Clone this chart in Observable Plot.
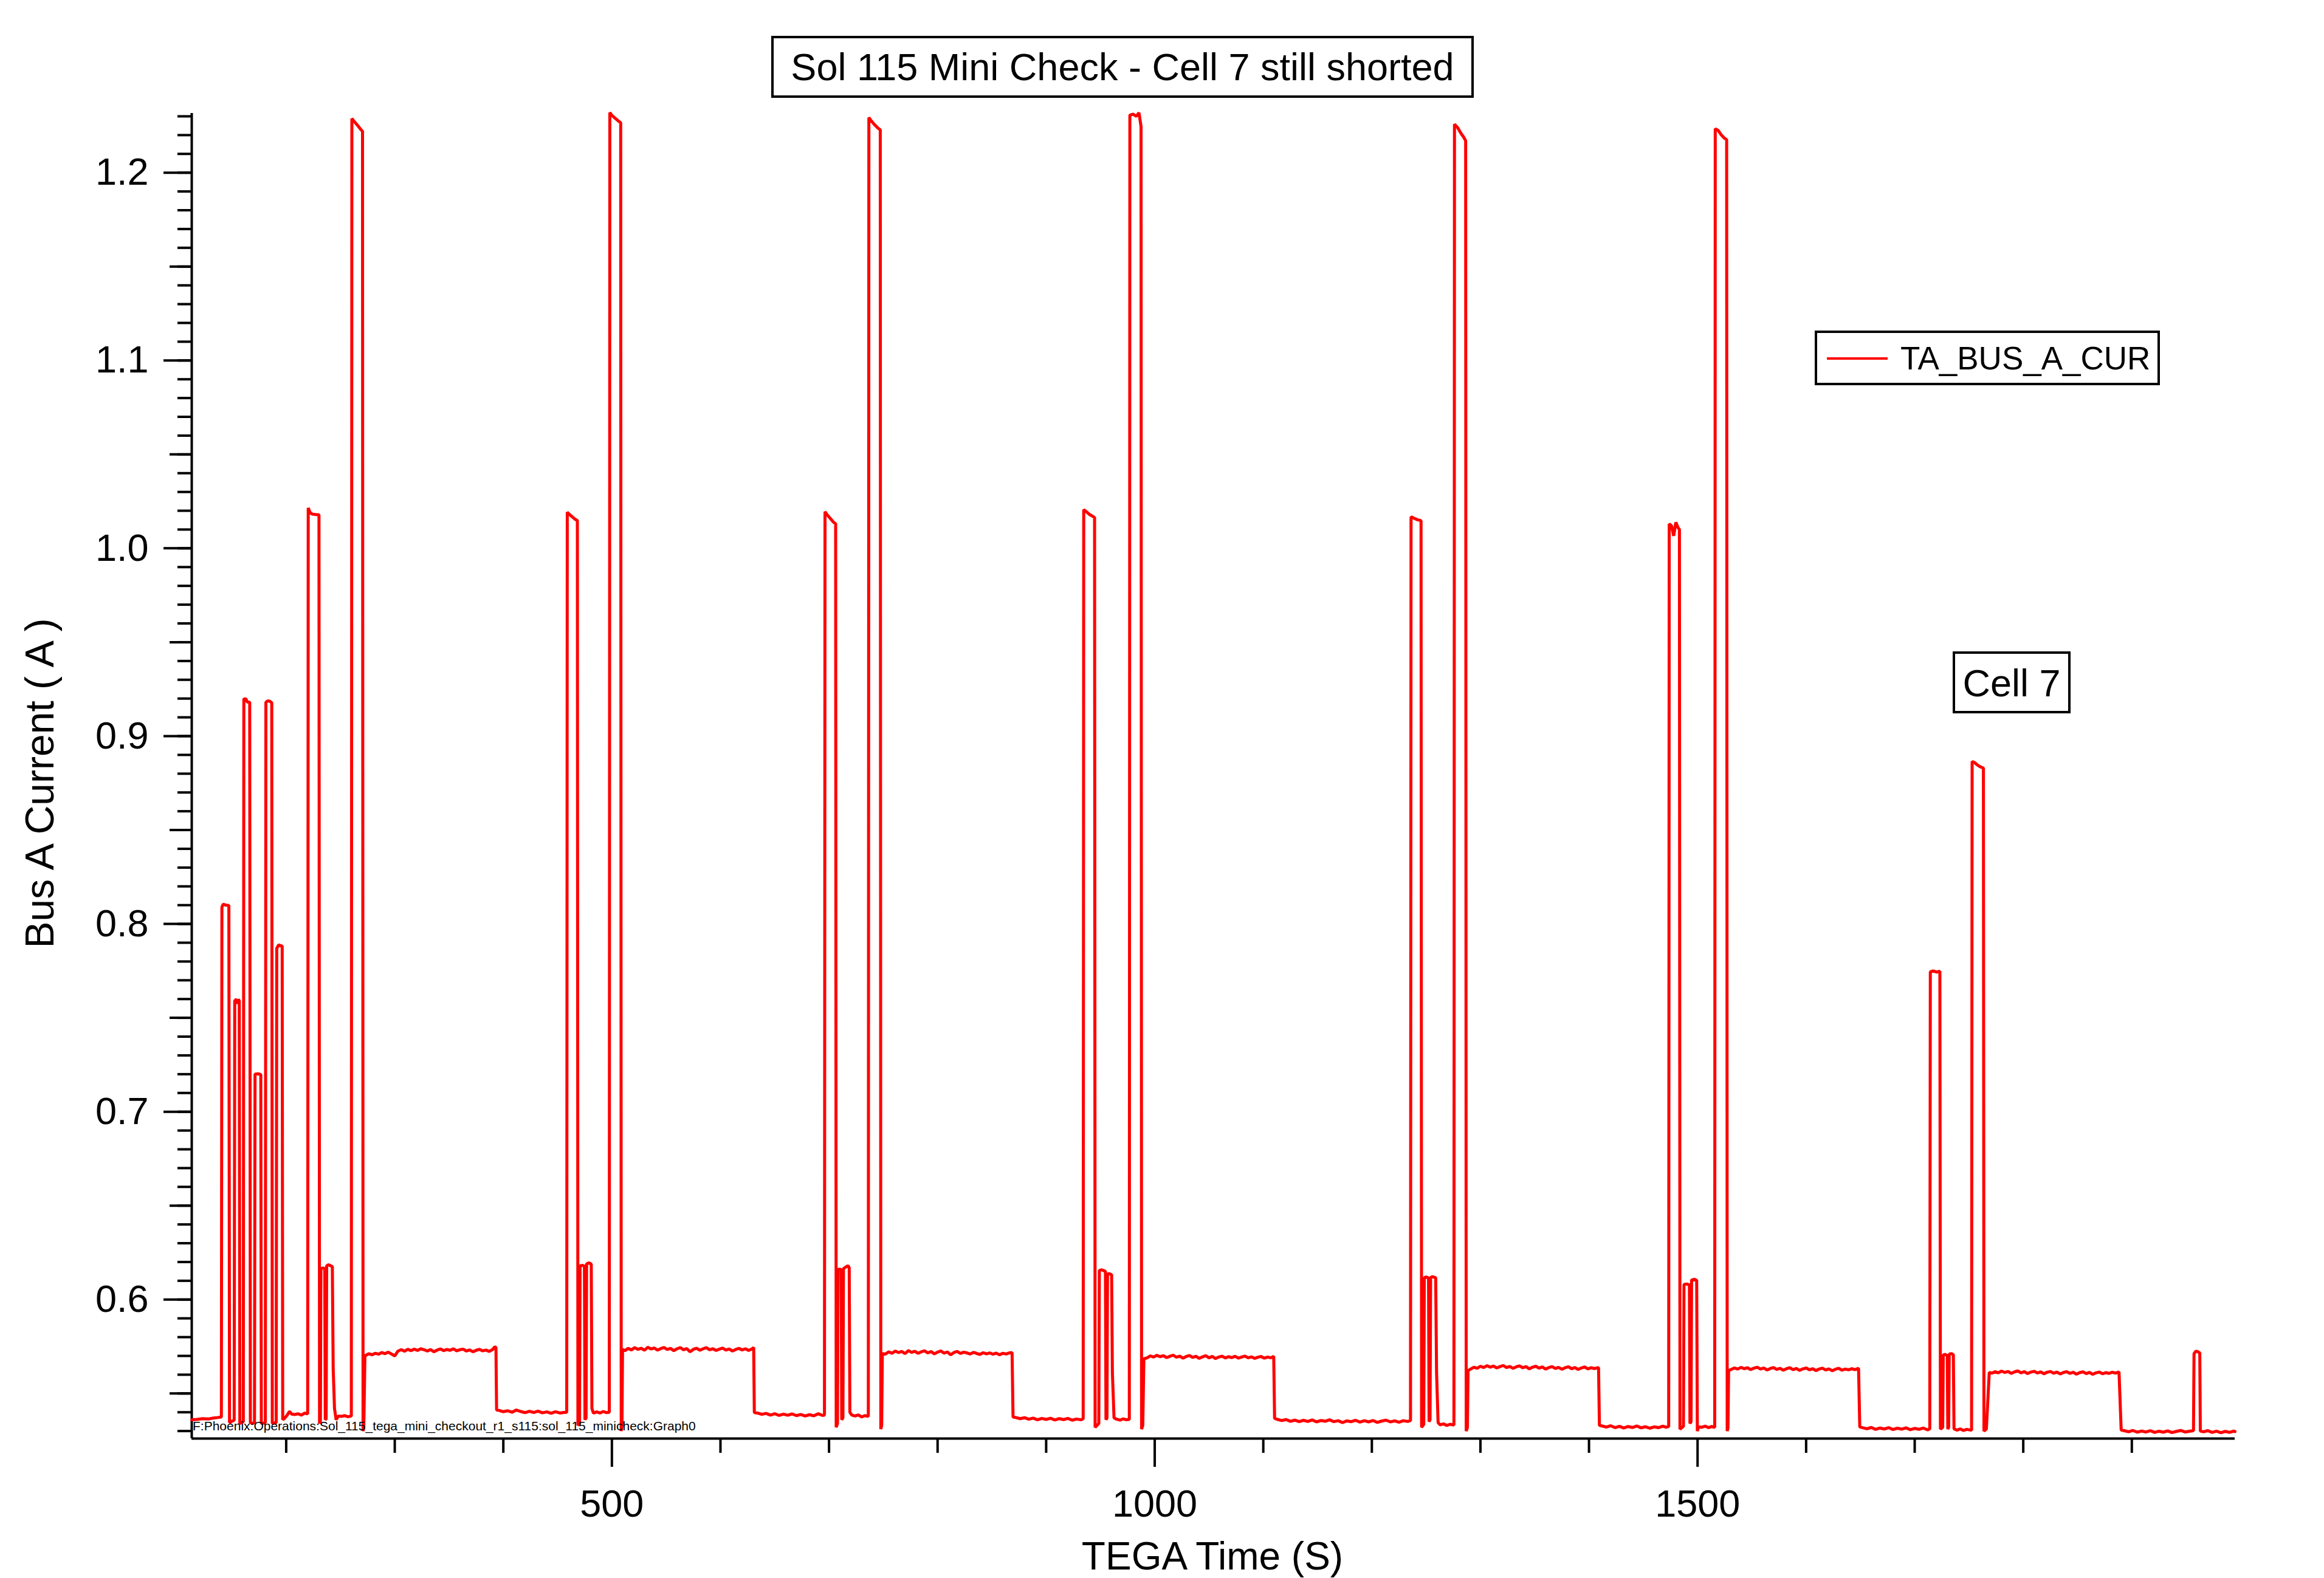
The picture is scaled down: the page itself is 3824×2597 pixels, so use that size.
<!DOCTYPE html>
<html><head><meta charset="utf-8">
<script src="https://cdn.jsdelivr.net/npm/d3@7"></script>
<script src="https://cdn.jsdelivr.net/npm/@observablehq/plot@0.6"></script>
<style>
html,body{margin:0;padding:0;background:#fff;overflow:hidden}
#chart{position:relative;width:3824px;height:2597px;background:#fff}
</style></head><body><div id="chart"></div>
<script>
// ---- texts ----
const titleText = "Sol 115 Mini Check - Cell 7 still shorted";
const seriesName = "TA_BUS_A_CUR";
const annotationText = "Cell 7";
const xLabel = "TEGA Time (S)";
const yLabel = "Bus A Current ( A )";
const pathText = "F:Phoenix:Operations:Sol_115_tega_mini_checkout_r1_s115:sol_115_minicheck:Graph0";

// ---- axes ----
const xDomain = [113, 1995];
const yDomain = [0.526, 1.2316];
const xMajorTicks = [500, 1000, 1500];
const xMinorTicks = [200, 300, 400, 600, 700, 800, 900, 1100, 1200, 1300, 1400, 1600, 1700, 1800, 1900];
const yMajorTicks = [0.6, 0.7, 0.8, 0.9, 1.0, 1.1, 1.2];
const yMidTicks = [0.55, 0.65, 0.75, 0.85, 0.95, 1.05, 1.15];
const yMinorTicks = d3.range(53, 124).map(d => d / 100);

// ---- data: [TEGA time (s), bus A current (A)] ----
const pulsesA = [[113,0.5360],[118,0.5362],[123,0.5366],[128,0.5364],[133,0.5369],[137,0.5372],[140.3,0.5375],[140.8,0.8090],[142,0.8105],[144.5,0.8100],[147.2,0.8098],[147.8,0.5345],[150,0.5352],[152.1,0.5358],[152.6,0.7590],[154,0.7600],[155,0.7575],[156,0.7598],[156.8,0.7590],[157.3,0.5340],[159,0.5346],[160.5,0.5350],[161,0.9198],[163,0.9198],[164,0.9182],[166.4,0.9180],[167,0.5345],[169,0.5340],[170.8,0.5346],[171.3,0.7200],[174,0.7202],[176.6,0.7198],[177.1,0.5340],[179,0.5342],[180.8,0.5345],[181.3,0.9180],[183,0.9188],[185,0.9185],[186.7,0.9178],[187.2,0.5340],[189,0.5343],[190.8,0.5345],[191.3,0.7870],[193,0.7888],[196.3,0.7882],[196.8,0.5360],[198,0.5365],[201,0.5385],[203,0.5405],[205,0.5390],[208,0.5388],[211,0.5392],[214,0.5385],[217,0.5395],[219.8,0.5392],[220.3,1.0215],[222,1.0190],[224,1.0182],[227,1.0180],[230.2,1.0178],[230.7,0.5340],[231.5,0.5350],[232,0.6165],[234,0.6168],[235.5,0.6165],[236,0.5360],[236.8,0.5365],[237.3,0.6180],[239,0.6185],[241,0.6180],[242.5,0.6175],[243.3,0.5630],[244.5,0.5420],[246,0.5360],[248,0.5380],[251,0.5378],[254,0.5382],[257,0.5376],[260,0.5380],[260.5,1.2288],[263,1.2270],[266,1.2250],[268,1.2235],[270.3,1.2220],[270.8,0.5300],[271.5,0.5320]];
const plateauA = [[272.5,0.5700],[276,0.5712],[279,0.5706],[282,0.5714],[285,0.5709],[288,0.5718],[291,0.5712],[294,0.5720],[297,0.5710],[300,0.5700],[303,0.5726],[306,0.5733],[309,0.5725],[312,0.5735],[315,0.5728],[318,0.5736],[321,0.5729],[324,0.5738],[327,0.5733],[330,0.5726],[333,0.5734],[336,0.5722],[339,0.5731],[342,0.5737],[345,0.5728],[348,0.5734],[351,0.5730],[354,0.5738],[357,0.5727],[360,0.5733],[363,0.5736],[366,0.5726],[369,0.5732],[372,0.5722],[375,0.5730],[378,0.5735],[381,0.5727],[384,0.5731],[387,0.5724],[390,0.5733],[392,0.5748],[393.2,0.5745]];
const baseA = [[393.8,0.5412],[396,0.5410],[400,0.5403],[404,0.5408],[408,0.5400],[412,0.5412],[416,0.5404],[420,0.5398],[424,0.5405],[428,0.5399],[432,0.5406],[436,0.5397],[440,0.5402],[444,0.5395],[448,0.5403],[452,0.5396],[456,0.5399],[458.4,0.5400]];
const pulsesB = [[458.9,1.0192],[461,1.0180],[464,1.0165],[466,1.0155],[468.2,1.0148],[468.7,0.5330],[470.2,0.5340],[470.7,0.6180],[473,0.6182],[474.7,0.6178],[475.2,0.5360],[476.2,0.5370],[476.7,0.6190],[479,0.6196],[481,0.6188],[481.6,0.5420],[483,0.5395],[486,0.5402],[489,0.5396],[492,0.5404],[495,0.5398],[497.6,0.5400],[498.1,1.2320],[500,1.2305],[503,1.2290],[506,1.2275],[508.1,1.2266],[508.6,0.5300],[509.3,0.5330]];
const plateauB = [[509.8,0.5735],[512,0.5728],[515,0.5740],[518,0.5732],[521,0.5744],[524,0.5735],[527,0.5741],[530,0.5730],[533,0.5746],[536,0.5737],[539,0.5742],[542,0.5731],[545,0.5739],[548,0.5745],[551,0.5734],[554,0.5740],[557,0.5728],[560,0.5738],[563,0.5744],[566,0.5733],[569,0.5739],[572,0.5722],[575,0.5735],[578,0.5741],[581,0.5730],[584,0.5738],[587,0.5744],[590,0.5733],[593,0.5738],[596,0.5729],[599,0.5736],[602,0.5742],[605,0.5731],[608,0.5737],[611,0.5726],[614,0.5734],[617,0.5740],[620,0.5732],[623,0.5738],[626,0.5729],[629,0.5737],[630.6,0.5745]];
const baseB = [[631.2,0.5398],[634,0.5396],[638,0.5389],[642,0.5394],[646,0.5385],[650,0.5392],[654,0.5383],[658,0.5390],[662,0.5384],[666,0.5391],[670,0.5382],[674,0.5388],[678,0.5380],[682,0.5387],[686,0.5381],[690,0.5392],[694,0.5383],[695.8,0.5385]];
const pulsesC = [[696.3,1.0195],[698,1.0180],[701,1.0160],[704,1.0140],[706.1,1.0130],[706.6,0.5320],[707.8,0.5340],[708.3,0.6160],[710,0.6162],[711.2,0.6158],[711.7,0.5360],[712.8,0.5370],[713.3,0.6165],[716,0.6175],[717.5,0.6180],[718.6,0.6170],[719.2,0.5400],[721,0.5385],[724,0.5380],[727,0.5386],[730,0.5375],[733,0.5382],[736.2,0.5378],[736.7,1.2293],[739,1.2275],[742,1.2255],[745,1.2238],[747.2,1.2228],[747.7,0.5310],[748.5,0.5330]];
const plateauC = [[749.1,0.5712],[752,0.5710],[755,0.5722],[758,0.5714],[761,0.5726],[764,0.5718],[767,0.5724],[770,0.5712],[773,0.5728],[776,0.5719],[779,0.5725],[782,0.5714],[785,0.5722],[788,0.5727],[791,0.5716],[794,0.5723],[797,0.5711],[800,0.5720],[803,0.5726],[806,0.5715],[809,0.5721],[812,0.5706],[815,0.5718],[818,0.5724],[821,0.5713],[824,0.5720],[827,0.5716],[830,0.5710],[833,0.5719],[836,0.5713],[839,0.5708],[842,0.5717],[845,0.5711],[848,0.5716],[851,0.5709],[854,0.5715],[857,0.5706],[860,0.5714],[863,0.5710],[866,0.5716],[868.6,0.5718]];
const baseC = [[869.5,0.5375],[872,0.5372],[876,0.5366],[880,0.5371],[884,0.5363],[888,0.5369],[892,0.5360],[896,0.5367],[900,0.5362],[904,0.5368],[908,0.5359],[912,0.5366],[916,0.5361],[920,0.5367],[924,0.5358],[928,0.5364],[932,0.5360],[934.1,0.5365]];
const pulsesD = [[934.6,1.0206],[937,1.0195],[940,1.0180],[943,1.0170],[944.6,1.0163],[945.1,0.5320],[948.5,0.5340],[949,0.6155],[951,0.6158],[953,0.6154],[954.6,0.6150],[955.1,0.5360],[956,0.5370],[956.5,0.6136],[958,0.6138],[960.3,0.6132],[961,0.5612],[962.5,0.5370],[965,0.5363],[968,0.5358],[971,0.5365],[974,0.5360],[976.6,0.5362],[977.1,1.2306],[980,1.2312],[983,1.2300],[985.5,1.2319],[987.4,1.2245],[987.9,0.5310],[989,0.5330]];
const plateauD = [[990,0.5684],[993,0.5690],[996,0.5700],[999,0.5694],[1002,0.5703],[1005,0.5696],[1008,0.5701],[1011,0.5691],[1014,0.5698],[1017,0.5704],[1020,0.5693],[1023,0.5699],[1026,0.5688],[1029,0.5697],[1032,0.5702],[1035,0.5692],[1038,0.5698],[1041,0.5687],[1044,0.5695],[1047,0.5701],[1050,0.5690],[1053,0.5697],[1056,0.5686],[1059,0.5694],[1062,0.5699],[1065,0.5689],[1068,0.5696],[1071,0.5691],[1074,0.5698],[1077,0.5688],[1080,0.5694],[1083,0.5699],[1086,0.5690],[1089,0.5695],[1092,0.5687],[1095,0.5693],[1098,0.5697],[1101,0.5688],[1104,0.5694],[1107,0.5690],[1109.6,0.5698]];
const baseD = [[1110.4,0.5368],[1113,0.5362],[1117,0.5356],[1121,0.5361],[1125,0.5352],[1129,0.5358],[1133,0.5350],[1137,0.5357],[1141,0.5351],[1145,0.5359],[1149,0.5349],[1153,0.5356],[1157,0.5352],[1161,0.5360],[1165,0.5350],[1169,0.5355],[1173,0.5345],[1177,0.5354],[1181,0.5350],[1185,0.5357],[1189,0.5348],[1193,0.5355],[1197,0.5349],[1201,0.5356],[1205,0.5346],[1209,0.5353],[1213,0.5358],[1217,0.5349],[1221,0.5354],[1225,0.5347],[1229,0.5355],[1233,0.5351],[1235.6,0.5356]];
const pulsesE = [[1236.1,1.0168],[1239,1.0160],[1242,1.0152],[1245.3,1.0147],[1245.8,0.5320],[1247.8,0.5335],[1248.3,0.6116],[1250,0.6120],[1252.2,0.6115],[1252.7,0.5350],[1253.6,0.5360],[1254.1,0.6118],[1256,0.6122],[1258.8,0.6116],[1259.6,0.5612],[1261,0.5345],[1263,0.5333],[1266,0.5338],[1269,0.5330],[1272,0.5336],[1275.6,0.5332],[1276.1,1.2258],[1279,1.2240],[1282,1.2210],[1284.5,1.2190],[1286.4,1.2170],[1286.9,0.5300],[1288,0.5320]];
const plateauE = [[1288.6,0.5622],[1291,0.5630],[1294,0.5640],[1297,0.5634],[1300,0.5645],[1303,0.5638],[1306,0.5648],[1309,0.5640],[1312,0.5646],[1315,0.5636],[1318,0.5643],[1321,0.5649],[1324,0.5638],[1327,0.5644],[1330,0.5634],[1333,0.5642],[1336,0.5647],[1339,0.5637],[1342,0.5643],[1345,0.5631],[1348,0.5640],[1351,0.5645],[1354,0.5635],[1357,0.5641],[1360,0.5630],[1363,0.5638],[1366,0.5643],[1369,0.5633],[1372,0.5639],[1375,0.5629],[1378,0.5637],[1381,0.5642],[1384,0.5632],[1387,0.5638],[1390,0.5628],[1393,0.5636],[1396,0.5641],[1399,0.5631],[1402,0.5637],[1405,0.5633],[1408.8,0.5638]];
const baseE = [[1409.6,0.5330],[1412,0.5327],[1416,0.5321],[1420,0.5328],[1424,0.5318],[1428,0.5325],[1432,0.5316],[1436,0.5324],[1440,0.5319],[1444,0.5327],[1448,0.5317],[1452,0.5323],[1456,0.5315],[1460,0.5322],[1464,0.5318],[1468,0.5326],[1471,0.5320],[1473.4,0.5324]];
const pulsesF = [[1473.9,1.0130],[1476,1.0120],[1478,1.0066],[1480,1.0138],[1482,1.0110],[1483.3,1.0100],[1483.8,0.5310],[1487,0.5325],[1487.5,0.6080],[1490,0.6083],[1492.5,0.6078],[1493,0.5340],[1494,0.5350],[1494.5,0.6104],[1497,0.6108],[1499.2,0.6102],[1499.8,0.5300],[1501,0.5322],[1504,0.5320],[1507,0.5326],[1510,0.5318],[1513,0.5324],[1515.8,0.5320],[1516.3,1.2234],[1519,1.2225],[1522,1.2200],[1524.5,1.2185],[1526.8,1.2175],[1527.3,0.5300],[1528,0.5315]];
const plateauF = [[1528.6,0.5622],[1531,0.5628],[1534,0.5636],[1537,0.5630],[1540,0.5639],[1543,0.5632],[1546,0.5637],[1549,0.5627],[1552,0.5635],[1555,0.5640],[1558,0.5630],[1561,0.5636],[1564,0.5625],[1567,0.5633],[1570,0.5638],[1573,0.5628],[1576,0.5634],[1579,0.5624],[1582,0.5632],[1585,0.5637],[1588,0.5627],[1591,0.5633],[1594,0.5623],[1597,0.5631],[1600,0.5636],[1603,0.5626],[1606,0.5632],[1609,0.5622],[1612,0.5630],[1615,0.5635],[1618,0.5625],[1621,0.5631],[1624,0.5621],[1627,0.5629],[1630,0.5634],[1633,0.5624],[1636,0.5630],[1639,0.5626],[1642,0.5632],[1645,0.5627],[1648.3,0.5634]];
const baseF = [[1649.4,0.5322],[1652,0.5318],[1656,0.5312],[1660,0.5319],[1664,0.5309],[1668,0.5316],[1672,0.5311],[1676,0.5318],[1680,0.5308],[1684,0.5315],[1688,0.5310],[1692,0.5317],[1696,0.5307],[1700,0.5314],[1704,0.5309],[1708,0.5316],[1712,0.5306],[1713.9,0.5312]];
const pulsesG = [[1714.4,0.7745],[1717,0.7750],[1720,0.7744],[1723.2,0.7748],[1723.7,0.5310],[1725.8,0.5320],[1726.3,0.5705],[1728,0.5708],[1730,0.5702],[1730.5,0.5310],[1731.3,0.5320],[1731.8,0.5710],[1734,0.5712],[1735.6,0.5706],[1736.2,0.5312],[1739,0.5305],[1742,0.5311],[1745,0.5303],[1748,0.5309],[1752.4,0.5304],[1752.9,0.8865],[1755,0.8860],[1758,0.8845],[1761,0.8835],[1763.3,0.8830],[1763.8,0.5300],[1766,0.5310]];
const plateauG = [[1768.7,0.5612],[1771,0.5608],[1774,0.5616],[1777,0.5610],[1780,0.5619],[1783,0.5612],[1786,0.5617],[1789,0.5607],[1792,0.5615],[1795,0.5620],[1798,0.5610],[1801,0.5616],[1804,0.5606],[1807,0.5614],[1810,0.5618],[1813,0.5609],[1816,0.5615],[1819,0.5605],[1822,0.5613],[1825,0.5617],[1828,0.5608],[1831,0.5614],[1834,0.5604],[1837,0.5612],[1840,0.5616],[1843,0.5607],[1846,0.5613],[1849,0.5603],[1852,0.5611],[1855,0.5615],[1858,0.5606],[1861,0.5612],[1864,0.5602],[1867,0.5610],[1870,0.5614],[1873,0.5605],[1876,0.5611],[1879,0.5607],[1882,0.5613],[1885,0.5608],[1888.2,0.5615]];
const baseG = [[1890.2,0.5305],[1893,0.5302],[1897,0.5296],[1901,0.5303],[1905,0.5294],[1909,0.5300],[1913,0.5295],[1917,0.5302],[1921,0.5293],[1925,0.5299],[1929,0.5294],[1933,0.5301],[1937,0.5292],[1941,0.5298],[1945,0.5303],[1949,0.5295],[1953,0.5299],[1956.8,0.5302],[1957.3,0.5712],[1959,0.5725],[1961,0.5722],[1962.6,0.5715],[1963.1,0.5300],[1966,0.5296],[1970,0.5302],[1974,0.5293],[1978,0.5299],[1982,0.5291],[1986,0.5298],[1990,0.5293],[1994,0.5300],[1995,0.5297]];

const series = [pulsesA, plateauA, baseA, pulsesB, plateauB, baseB, pulsesC, plateauC, baseC,
  pulsesD, plateauD, baseD, pulsesE, plateauE, baseE, pulsesF, plateauF, baseF, pulsesG, plateauG, baseG]
  .flat().map(([t, v]) => ({t, v}));

const FONT = "'Liberation Sans', Arial, Helvetica, sans-serif";
const RED = "#ff0000";

const plot = Plot.plot({
  width: 3824, height: 2597,
  marginLeft: 315, marginRight: 147, marginTop: 186, marginBottom: 230,
  style: {fontFamily: FONT, background: "#fff", color: "#000"},
  x: {domain: xDomain, label: null},
  y: {domain: yDomain, label: null},
  marks: [
    Plot.axisY({ticks: yMinorTicks, tickSize: 23, tickFormat: () => "", strokeWidth: 4, label: null}),
    Plot.axisY({ticks: yMidTicks, tickSize: 36, tickFormat: () => "", strokeWidth: 4, label: null}),
    Plot.axisY({ticks: yMajorTicks, tickSize: 46, tickPadding: 25, tickFormat: d => d.toFixed(1), fontSize: 63, strokeWidth: 4, label: null}),
    Plot.axisX({ticks: xMinorTicks, tickSize: 24, tickFormat: () => "", strokeWidth: 4, label: null}),
    Plot.axisX({ticks: xMajorTicks, tickSize: 47, tickPadding: 37, tickFormat: d => String(d), fontSize: 63, strokeWidth: 4, label: null}),
    Plot.ruleX([xDomain[0]], {strokeWidth: 4, stroke: "#000"}),
    Plot.ruleY([yDomain[0]], {strokeWidth: 4, stroke: "#000"}),
    Plot.line(series, {x: "t", y: "v", stroke: RED, strokeWidth: 5, strokeLinejoin: "miter"})
  ]
});

document.getElementById("chart").appendChild(plot);

// ---- annotations (title box, legend box, Cell 7 box, axis titles, path stamp) ----
const svg = d3.select(plot);
const ann = svg.append("g").attr("font-family", FONT).attr("fill", "#000").attr("text-anchor", "start");

// title
ann.append("rect").attr("x", 1271).attr("y", 61).attr("width", 1152).attr("height", 98)
  .attr("fill", "#fff").attr("stroke", "#000").attr("stroke-width", 4);
ann.append("text").attr("x", 1847).attr("y", 132).attr("text-anchor", "middle")
  .attr("font-size", 63).text(titleText);

// legend
ann.append("rect").attr("x", 2988).attr("y", 546).attr("width", 564).attr("height", 86)
  .attr("fill", "#fff").attr("stroke", "#000").attr("stroke-width", 4);
ann.append("line").attr("x1", 3006).attr("x2", 3106).attr("y1", 590).attr("y2", 590)
  .attr("stroke", RED).attr("stroke-width", 4);
ann.append("text").attr("x", 3127).attr("y", 608).attr("text-anchor", "start")
  .attr("font-size", 53).text(seriesName);

// Cell 7 annotation
ann.append("rect").attr("x", 3215).attr("y", 1074).attr("width", 190).attr("height", 98)
  .attr("fill", "#fff").attr("stroke", "#000").attr("stroke-width", 4);
ann.append("text").attr("x", 3310).attr("y", 1146).attr("text-anchor", "middle")
  .attr("font-size", 63).text(annotationText);

// axis titles
ann.append("text").attr("transform", "translate(88,1289) rotate(-90)").attr("text-anchor", "middle")
  .attr("font-size", 66).text(yLabel);
ann.append("text").attr("x", 1995).attr("y", 2583).attr("text-anchor", "middle")
  .attr("font-size", 64).text(xLabel);

// file path stamp
ann.append("text").attr("x", 317).attr("y", 2354).attr("text-anchor", "start")
  .attr("font-size", 21).text(pathText);
</script>
</body></html>
